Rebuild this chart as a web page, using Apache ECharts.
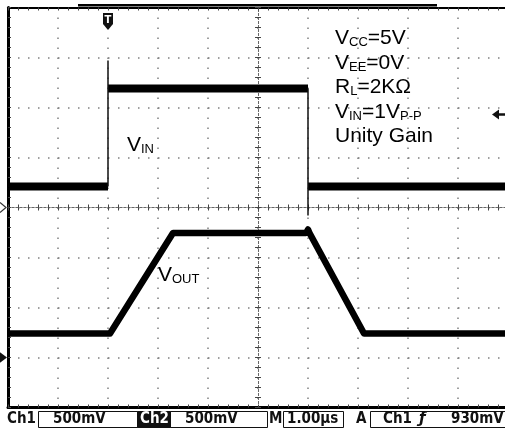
<!DOCTYPE html>
<html><head><meta charset="utf-8">
<script src="https://cdn.jsdelivr.net/npm/echarts/dist/echarts.min.js"></script>
<style>html,body{margin:0;padding:0;background:#fff}#c{width:505px;height:430px}</style>
</head><body><div id="c"></div>
<script>
// ---- data (time in µs, 1 µs/div; volts, 500 mV/div) ----
// Ch1 input: flat levels given pairwise (start,end) of each plateau
const vinLevelTime  = [0, 2.0, 2.0, 6.0, 6.0, 10];
const vinLevelVolts = [0.21, 0.21, 1.19, 1.19, 0.21, 0.21];
// Ch1 input: fast edges (with overshoot / undershoot)
const vinRiseTime   = [2.0, 2.0, 2.0];
const vinRiseVolts  = [0.21, 1.47, 1.19];
const vinFallTime   = [6.0, 6.0, 6.0];
const vinFallVolts  = [1.19, -0.08, 0.21];
// Ch2 output
const voutTime  = [0, 2.04, 3.30, 5.96, 6.0, 6.03, 7.12, 10];
const voutVolts = [0.24, 0.24, 1.245, 1.245, 1.28, 1.245, 0.24, 0.24];
// scope settings
const timeRange = [0, 10];       // µs, 10 div
const ch1Range  = [-2, 2];       // V, 8 div
const ch2Range  = [-0.5, 3.5];   // V, 8 div
const triggerTime  = 2.0;        // µs
const triggerLevel = 0.93;       // V on Ch1
const notes = ['{m|V}{s|CC}{m|=5V}', '{m|V}{s|EE}{m|=0V}', '{m|R}{s|L}{m|=2KΩ}', '{m|V}{s|IN}{m|=1V}{s|P-P}', '{m|Unity Gain}'];

const chart = echarts.init(document.getElementById('c'));
const FONT = '"Liberation Sans", Arial, sans-serif';
const DOT = '#808080';

function levelData(t, v) {
  const out = [];
  for (let i = 0; i < t.length; i += 2) {
    if (i) out.push([t[i], '-']);
    out.push([t[i], v[i]], [t[i + 1], v[i + 1]]);
  }
  return out;
}
const pairs = (t, v) => t.map((x, i) => [x, v[i]]);

const tickStyle = {color: '#444', width: 1};
function borderX(pos, w, split) {
  return {
    type: 'value', min: timeRange[0], max: timeRange[1], interval: 1, position: pos,
    axisLine: {show: true, onZero: false, lineStyle: {color: '#000', width: w}},
    axisTick: {show: true, inside: true, length: 3, lineStyle: tickStyle},
    minorTick: {show: true, splitNumber: 5, length: 3, lineStyle: tickStyle},
    axisLabel: {show: false},
    splitLine: {show: split, lineStyle: {color: DOT, width: 1.5, type: [1.5, 8.5]}}
  };
}
function centerX(pos) {
  return {
    type: 'value', min: timeRange[0], max: timeRange[1], interval: 1, position: pos,
    axisLine: {show: true, onZero: true, onZeroAxisIndex: 0, lineStyle: {color: '#666', width: 1, type: [2, 2]}},
    axisTick: {show: true, inside: true, length: 3, lineStyle: tickStyle},
    minorTick: {show: true, splitNumber: 5, length: 3, lineStyle: tickStyle},
    axisLabel: {show: false}, splitLine: {show: false}
  };
}
function centerY(pos) {
  return {
    type: 'value', min: ch1Range[0], max: ch1Range[1], interval: 0.5, position: pos,
    axisLine: {show: true, onZero: true, onZeroAxisIndex: 4, lineStyle: {color: '#666', width: 1, type: [2, 2]}},
    axisTick: {show: true, inside: true, length: 3, lineStyle: tickStyle},
    minorTick: {show: true, splitNumber: 5, length: 3, lineStyle: tickStyle},
    axisLabel: {show: false}, splitLine: {show: false}
  };
}

chart.setOption({
  animation: false,
  backgroundColor: '#fff',
  grid: {left: 8, top: 7.5, width: 500, height: 400, outerBoundsMode: 'none', containLabel: false},
  xAxis: [
    borderX('bottom', 3, true),
    borderX('top', 2, false),
    centerX('bottom'),
    centerX('top'),
    {type: 'value', min: -5, max: 5, show: false, axisLine: {onZero: false}}
  ],
  yAxis: [
    {
      type: 'value', min: ch1Range[0], max: ch1Range[1], interval: 0.5, position: 'left',
      axisLine: {show: true, onZero: false, lineStyle: {color: '#000', width: 3}},
      axisTick: {show: true, inside: true, length: 3, lineStyle: tickStyle},
      minorTick: {show: true, splitNumber: 5, length: 3, lineStyle: tickStyle},
      axisLabel: {show: false},
      splitLine: {show: true, lineStyle: {color: DOT, width: 1.5, type: [1.5, 8.5]}}
    },
    {type: 'value', min: ch2Range[0], max: ch2Range[1], show: false, axisLine: {onZero: false}},
    centerY('left'),
    centerY('right')
  ],
  series: [
    {type: 'line', name: 'VIN', xAxisIndex: 0, yAxisIndex: 0, data: levelData(vinLevelTime, vinLevelVolts),
     symbol: 'none', connectNulls: false, lineStyle: {color: '#000', width: 8}, silent: true, z: 5},
    {type: 'line', name: 'VIN rise', xAxisIndex: 0, yAxisIndex: 0, data: pairs(vinRiseTime, vinRiseVolts),
     symbol: 'none', lineStyle: {color: '#111', width: 1.5}, silent: true, z: 5},
    {type: 'line', name: 'VIN fall', xAxisIndex: 0, yAxisIndex: 0, data: pairs(vinFallTime, vinFallVolts),
     symbol: 'none', lineStyle: {color: '#111', width: 1.5}, silent: true, z: 5},
    {type: 'line', name: 'VOUT', xAxisIndex: 0, yAxisIndex: 1, data: pairs(voutTime, voutVolts),
     symbol: 'none', lineStyle: {color: '#000', width: 6.5, join: 'round'}, silent: true, z: 5}
  ]
});

// ---- decorations positioned through the axes ----
const px = v => chart.convertToPixel({xAxisIndex: 0}, v);
const py1 = v => chart.convertToPixel({yAxisIndex: 0}, v);
const py2 = v => chart.convertToPixel({yAxisIndex: 1}, v);
const gx0 = px(timeRange[0]);
const gTop = py1(ch1Range[1]);

const rich = {
  m: {fontFamily: FONT, fontSize: 21, color: '#222', verticalAlign: 'bottom', lineHeight: 22},
  s: {fontFamily: FONT, fontSize: 13, color: '#222', verticalAlign: 'bottom', lineHeight: 22}
};
const g = [];
notes.forEach((n, i) => {
  g.push({type: 'text', x: 335, y: 27 + i * 24.5, z: 20,
    style: {text: n, rich: rich, textVerticalAlign: 'top'}});
});
g.push({type: 'text', x: 127, y: 134, z: 20, style: {text: '{m|V}{s|IN}', rich: rich, textVerticalAlign: 'top'}});
g.push({type: 'text', x: 158, y: 264, z: 20, style: {text: '{m|V}{s|OUT}', rich: rich, textVerticalAlign: 'top'}});

// extra top bracket (record view)
g.push({type: 'rect', z: 15, shape: {x: gx0 + 70, y: gTop - 3.5, width: 359, height: 2.5}, style: {fill: '#000'}});

// trigger position marker "T"
const tx = px(triggerTime);
g.push({type: 'polygon', z: 20, shape: {points: [[tx - 5, 13], [tx + 5, 13], [tx + 5, 24], [tx, 30], [tx - 5, 24]]}, style: {fill: '#111'}});
g.push({type: 'text', z: 21, x: tx, y: 20, style: {text: 'T', fill: '#fff', font: 'bold 10px "DejaVu Sans"', textAlign: 'center', textVerticalAlign: 'middle'}});

// trigger level arrow
const ty = py1(triggerLevel);
g.push({type: 'polygon', z: 20, shape: {points: [[492, ty], [499, ty - 5], [499, ty + 5]]}, style: {fill: '#111'}});
g.push({type: 'line', z: 20, shape: {x1: 497, y1: ty, x2: 505, y2: ty}, style: {stroke: '#111', lineWidth: 2.5}});

// channel ground markers
const c1 = py1(0), c2 = py2(0);
g.push({type: 'polyline', z: 20, shape: {points: [[gx0 - 8, c1 - 5], [gx0 - 2, c1], [gx0 - 8, c1 + 5]]}, style: {stroke: '#333', lineWidth: 1.2, fill: null}});
g.push({type: 'polygon', z: 20, shape: {points: [[gx0 - 9, c2 - 6], [gx0 - 1, c2], [gx0 - 9, c2 + 6]]}, style: {fill: '#111'}});

// bottom status bar
const BF = 'bold 15px "DejaVu Sans Condensed", "Liberation Sans Narrow", "DejaVu Sans", sans-serif';
const by = 419.5;
function txt(x, s, color) { g.push({type: 'text', z: 20, x: x, y: by, style: {text: s, font: BF, fill: color || '#111', textVerticalAlign: 'middle'}}); }
function box(x, w, fill) { g.push({type: 'rect', z: 19, shape: {x: x + 0.5, y: 411.5, width: w, height: 16}, style: {fill: fill || null, stroke: '#111', lineWidth: 1}}); }
txt(7, 'Ch1');
box(38, 99);
txt(53, '500mV');
box(137, 33, '#111');
txt(140, 'Ch2', '#fff');
box(170, 97);
txt(185, '500mV');
txt(269, 'M');
box(283, 60);
txt(287, '1.00µs');
txt(356, 'A');
box(370, 140);
txt(383, 'Ch1');
g.push({type: 'text', z: 20, x: 419, y: by, style: {text: 'ƒ', font: 'bold italic 15px "DejaVu Sans"', fill: '#111', textVerticalAlign: 'middle'}});
txt(451, '930mV');

chart.setOption({graphic: g});
</script>
</body></html>
